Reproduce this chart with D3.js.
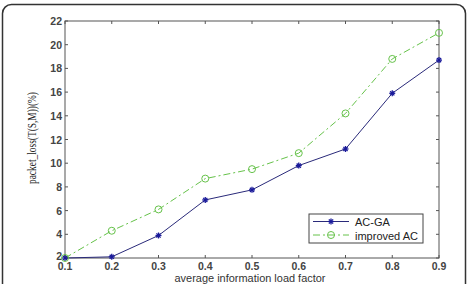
<!DOCTYPE html>
<html><head><meta charset="utf-8">
<script src="https://cdn.jsdelivr.net/npm/d3@7/dist/d3.min.js"></script>
<style>body{margin:0;background:#fff}svg{display:block}</style>
</head><body>
<script>
const xValues = [0.1,0.2,0.3,0.4,0.5,0.6,0.7,0.8,0.9];
const acGA = [2.0,2.1,3.9,6.9,7.75,9.8,11.2,15.9,18.7];
const improvedAC = [2.0,4.3,6.1,8.7,9.5,10.85,14.2,18.8,21.0];
const yTicks = [2,4,6,8,10,12,14,16,18,20,22];
const seriesNames = ["AC-GA","improved AC"];

const W=469,H=284;
const svg=d3.select("body").append("svg").attr("width",W).attr("height",H);
svg.append("rect").attr("x",2.5).attr("y",4.5).attr("width",463).attr("height",300)
  .attr("rx",9).attr("fill","#fff").attr("stroke","#333").attr("stroke-width",1.5);

const L=65,R=439,T=21,B=258;
const x=d3.scaleLinear().domain([0.1,0.9]).range([L,R]);
const y=d3.scaleLinear().domain([2,22]).range([B,T]);
const g=svg.append("g");
g.append("rect").attr("x",L).attr("y",T).attr("width",R-L).attr("height",B-T)
  .attr("fill","none").attr("stroke","#555").attr("stroke-width",1);

const font="Liberation Sans, Arial, sans-serif";
const tk=3;
xValues.forEach(v=>{
  g.append("line").attr("x1",x(v)).attr("x2",x(v)).attr("y1",B).attr("y2",B-tk).attr("stroke","#555");
  g.append("line").attr("x1",x(v)).attr("x2",x(v)).attr("y1",T).attr("y2",T+tk).attr("stroke","#555");
  g.append("text").attr("x",x(v)).attr("y",B+12).attr("text-anchor","middle")
   .attr("font-family",font).attr("font-size",10.5).attr("font-weight","bold").attr("fill","#444").text(d3.format(".1f")(v));
});
yTicks.forEach(v=>{
  g.append("line").attr("x1",L).attr("x2",L+tk).attr("y1",y(v)).attr("y2",y(v)).attr("stroke","#555");
  g.append("line").attr("x1",R).attr("x2",R-tk).attr("y1",y(v)).attr("y2",y(v)).attr("stroke","#555");
  g.append("text").attr("x",L-3).attr("y",y(v)+(v===2?1.5:4)).attr("text-anchor","end")
   .attr("font-family",font).attr("font-size",10.5).attr("font-weight","bold").attr("fill","#444").text(v);
});
g.append("text").attr("x",250).attr("y",281.5).attr("text-anchor","middle")
 .attr("font-family",font).attr("font-size",10.5).attr("fill","#333")
 .attr("textLength",151).attr("lengthAdjust","spacingAndGlyphs").text("average information load factor");
g.append("text").attr("transform","translate(35.5,138) rotate(-90)").attr("text-anchor","middle")
 .attr("font-family","Liberation Serif, Times New Roman, serif").attr("font-size",11.5).attr("fill","#222")
 .attr("textLength",92).attr("lengthAdjust","spacingAndGlyphs")
 .text("packet_loss(T(S,M))(%)");

const line=d3.line().x((d,i)=>x(xValues[i])).y(d=>y(d));
const blue="#2a2a7a", green="#66c24a";
g.append("path").datum(acGA).attr("d",line).attr("fill","none").attr("stroke",blue).attr("stroke-width",1);
g.append("path").datum(improvedAC).attr("d",line).attr("fill","none").attr("stroke",green)
 .attr("stroke-width",1).attr("stroke-dasharray","7,3,2,3");
function star(sel,cx,cy){
  const s=3;
  [[-s,0,s,0],[0,-s,0,s],[-s*0.7,-s*0.7,s*0.7,s*0.7],[-s*0.7,s*0.7,s*0.7,-s*0.7]].forEach(p=>
    sel.append("line").attr("x1",cx+p[0]).attr("y1",cy+p[1]).attr("x2",cx+p[2]).attr("y2",cy+p[3])
     .attr("stroke","#1a1a9a").attr("stroke-width",1.3));
}
function circ(sel,cx,cy){
  sel.append("circle").attr("cx",cx).attr("cy",cy).attr("r",3.5).attr("fill","none").attr("stroke",green).attr("stroke-width",1);
}
acGA.forEach((d,i)=>star(g,x(xValues[i]),y(d)));
improvedAC.forEach((d,i)=>circ(g,x(xValues[i]),y(d)));

const lg=g.append("g");
lg.append("rect").attr("x",309).attr("y",214).attr("width",114).attr("height",29)
  .attr("fill","#fff").attr("stroke","#444").attr("stroke-width",1);
lg.append("line").attr("x1",313).attr("x2",349).attr("y1",221.5).attr("y2",221.5).attr("stroke",blue);
star(lg,331,221.5);
lg.append("line").attr("x1",313).attr("x2",349).attr("y1",235).attr("y2",235).attr("stroke",green).attr("stroke-dasharray","7,3,2,3");
circ(lg,331,235);
lg.append("text").attr("x",355).attr("y",225.5).attr("font-family",font).attr("font-size",11).attr("fill","#222").text(seriesNames[0]);
lg.append("text").attr("x",355).attr("y",239.5).attr("font-family",font).attr("font-size",11).attr("fill","#222").text(seriesNames[1]);
</script>
</body></html>
